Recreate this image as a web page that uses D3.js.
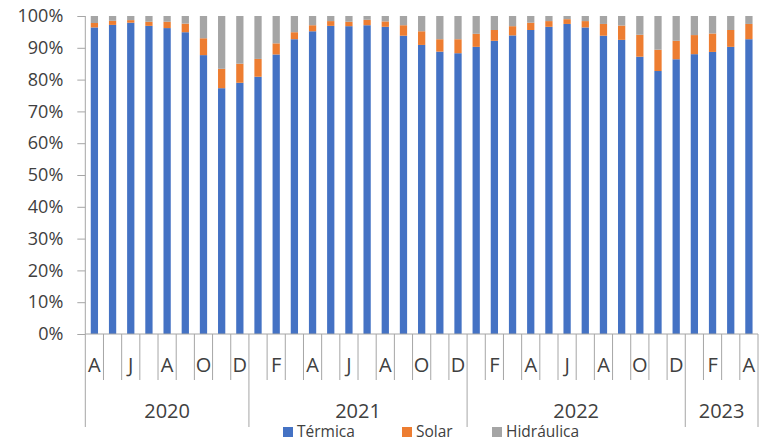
<!DOCTYPE html>
<html>
<head>
<meta charset="utf-8">
<script src="https://cdn.jsdelivr.net/npm/d3@7"></script>
<style>
  body { margin: 0; background: #fff; }
  text { font-family: "Open Sans", sans-serif; fill: #404040; }
</style>
</head>
<body>
<div id="container"></div>
<script>
/* global d3*/

const width = 769;
const height = 442;

// month letters (Spanish), Apr 2020 .. Apr 2023
const months = [
  "A", "M", "J", "J", "A", "S", "O", "N", "D",
  "E", "F", "M", "A", "M", "J", "J", "A", "S", "O", "N", "D",
  "E", "F", "M", "A", "M", "J", "J", "A", "S", "O", "N", "D",
  "E", "F", "M", "A"
];
const years = ["2020", "2021", "2022", "2023"];
const monthsPerYear = [9, 12, 12, 4];

// shares in %
const termica = [
  96.4, 97.2, 97.9, 96.9, 96.2, 94.9, 87.7, 77.3, 79.0,
  80.9, 87.9, 92.7, 95.2, 96.9, 96.8, 97.1, 96.6, 93.8, 90.9, 88.8, 88.3,
  90.3, 92.2, 93.9, 95.6, 96.6, 97.5, 96.4, 93.8, 92.5, 87.2, 82.7, 86.4,
  88.0, 88.7, 90.3, 92.7
];
const solar = [
  1.4, 1.3, 0.8, 1.3, 2.0, 2.7, 5.3, 6.1, 6.0,
  5.6, 3.5, 2.2, 1.9, 1.5, 1.4, 1.7, 1.7, 3.3, 4.3, 3.9, 4.4,
  4.1, 3.4, 2.9, 2.3, 1.8, 1.5, 2.0, 3.7, 4.5, 6.9, 6.7, 5.8,
  6.0, 5.8, 5.3, 4.8
];
const hidraulica = [
  2.2, 1.5, 1.3, 1.8, 1.8, 2.4, 7.0, 16.6, 15.0,
  13.5, 8.6, 5.1, 2.9, 1.6, 1.8, 1.2, 1.7, 2.9, 4.8, 7.3, 7.3,
  5.6, 4.4, 3.2, 2.1, 1.6, 1.0, 1.6, 2.5, 3.0, 5.9, 10.6, 7.8,
  6.0, 5.5, 4.4, 2.5
];
const yTicks = [0, 10, 20, 30, 40, 50, 60, 70, 80, 90, 100];

const seriesNames = ["Térmica", "Solar", "Hidráulica"];
const colors = ["#4472C4", "#ED7D31", "#A5A5A5"];

const rows = months.map((m, i) => ({
  i: i,
  "Térmica": termica[i],
  "Solar": solar[i],
  "Hidráulica": hidraulica[i]
}));

const svg = d3
  .select("#container")
  .append("svg")
  .attr("width", width)
  .attr("height", height);

const x = d3
  .scaleBand(d3.range(months.length), [85.3, 758])
  .paddingInner(0.6)
  .paddingOuter(0.3);
const y = d3.scaleLinear([0, 100], [334, 16]);
const color = d3.scaleOrdinal(seriesNames, colors);

// left edge of a category cell
const cellLeft = (i) => x.range()[0] + i * x.step();

//stacked bars
const stacked = d3.stack().keys(seriesNames)(rows);

svg
  .append("g")
  .selectAll("g")
  .data(stacked)
  .join("g")
  .attr("fill", (d) => color(d.key))
  .selectAll("rect")
  .data((d) => d)
  .join("rect")
  .attr("x", (d) => x(d.data.i))
  .attr("width", x.bandwidth())
  .attr("y", (d) => y(d[1]))
  .attr("height", (d) => y(d[0]) - y(d[1]));

// y axis
const yAx = svg
  .append("g")
  .attr("transform", `translate(${x.range()[0]},0)`)
  .call(
    d3.axisLeft(y)
      .tickValues(yTicks)
      .tickFormat((d) => d + "%")
      .tickSize(8)
      .tickPadding(14)
  );
yAx.selectAll("path, line").attr("stroke", "#A6A6A6");
yAx.selectAll("text").style("font-size", "18px").attr("fill", "#404040");
yAx.select(".domain").attr("d", `M0,${y(100)}V${y(0)}`); // no end caps

// category axis: baseline, separators, month + year labels
svg
  .append("line")
  .attr("x1", x.range()[0])
  .attr("x2", x.range()[1])
  .attr("y1", y(0))
  .attr("y2", y(0))
  .attr("stroke", "#A6A6A6");

const yearStarts = [0];
monthsPerYear.forEach((n, k) => yearStarts.push(yearStarts[k] + n));

svg
  .append("g")
  .selectAll("line")
  .data(d3.range(months.length + 1))
  .join("line")
  .attr("x1", (i) => cellLeft(i))
  .attr("x2", (i) => cellLeft(i))
  .attr("y1", y(0))
  .attr("y2", (i) => (yearStarts.includes(i) ? 427 : 380))
  .attr("stroke", "#A6A6A6");

// Excel shows every other month letter
svg
  .append("g")
  .selectAll("text")
  .data(months.map((m, i) => ({ m, i })).filter((d) => d.i % 2 === 0))
  .join("text")
  .attr("x", (d) => x(d.i) + x.bandwidth() / 2)
  .attr("y", 371.5)
  .attr("text-anchor", "middle")
  .style("font-size", "20px")
  .text((d) => d.m);

svg
  .append("g")
  .selectAll("text")
  .data(years)
  .join("text")
  .attr("x", (d, k) => (cellLeft(yearStarts[k]) + cellLeft(yearStarts[k + 1])) / 2)
  .attr("y", 418)
  .attr("text-anchor", "middle")
  .style("font-size", "20px")
  .text((d) => d);

// legend
const legendX = [283, 402, 492];
const legend = svg
  .append("g")
  .selectAll("g")
  .data(seriesNames)
  .join("g")
  .attr("transform", (d, k) => `translate(${legendX[k]},427)`);
legend
  .append("rect")
  .attr("width", 10)
  .attr("height", 10)
  .attr("fill", (d) => color(d));
legend
  .append("text")
  .attr("x", 14)
  .attr("y", 10)
  .style("font-size", "15.5px")
  .text((d) => d);
</script>
</body>
</html>
